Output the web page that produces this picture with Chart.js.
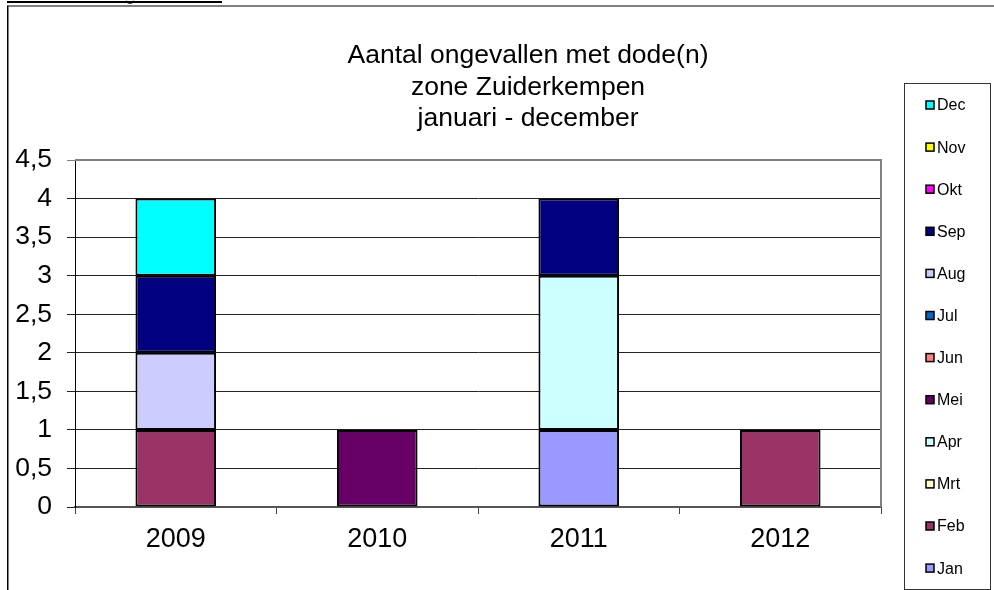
<!DOCTYPE html>
<html>
<head>
<meta charset="utf-8">
<script src="https://cdn.jsdelivr.net/npm/chart.js@4.4.1/dist/chart.umd.min.js"></script>
<style>
  html, body { margin: 0; padding: 0; background: #fff; }
  canvas { display: block; }
</style>
</head>
<body>
<canvas id="chart" width="994" height="590"></canvas>
<script>
// categorieën en maanden
const years = ['2009', '2010', '2011', '2012'];
const months = ['Jan', 'Feb', 'Mrt', 'Apr', 'Mei', 'Jun', 'Jul', 'Aug', 'Sep', 'Okt', 'Nov', 'Dec'];

// aantal ongevallen per maand, per jaar
const jan = [0, 0, 1, 0];
const feb = [1, 0, 0, 1];
const mrt = [0, 0, 0, 0];
const apr = [0, 0, 2, 0];
const mei = [0, 1, 0, 0];
const jun = [0, 0, 0, 0];
const jul = [0, 0, 0, 0];
const aug = [1, 0, 0, 0];
const sep = [1, 0, 1, 0];
const okt = [0, 0, 0, 0];
const nov = [0, 0, 0, 0];
const dec = [1, 0, 0, 0];

const yTickLabels = ['0', '0,5', '1', '1,5', '2', '2,5', '3', '3,5', '4', '4,5'];

const titleLines = ['Aantal ongevallen met dode(n)', 'zone Zuiderkempen', 'januari - december'];

// Excel standaardkleuren
const monthColors = ['#9999FF', '#993366', '#FFFFCC', '#CCFFFF', '#660066', '#FF8080',
                     '#0066CC', '#CCCCFF', '#000080', '#FF00FF', '#FFFF00', '#00FFFF'];

const series = [jan, feb, mrt, apr, mei, jun, jul, aug, sep, okt, nov, dec];

const FONT = '"Liberation Sans", Arial, sans-serif';
Chart.defaults.font.family = FONT;
Chart.defaults.color = '#000';

// kader, titel en legende
const decorPlugin = {
    id: 'decor',
    beforeDraw(chart) {
        const c = chart.ctx;
        c.save();
        c.fillStyle = '#fff';
        c.fillRect(0, 0, chart.width, chart.height);
        c.fillStyle = '#000';
        c.fillRect(7, 1, 215, 2);
        c.beginPath();
        c.arc(130, -2, 5, 0.2 * Math.PI, 0.8 * Math.PI);
        c.lineWidth = 1.5;
        c.strokeStyle = '#000';
        c.stroke();
        c.fillStyle = '#808080';
        c.fillRect(7, 5, 987, 2);
        c.fillStyle = '#000';
        c.fillRect(7, 6, 1.5, 584);
        c.restore();
    },
    afterDraw(chart) {
        const c = chart.ctx;
        const a = chart.chartArea;
        c.save();
        // grijze rand boven en rechts van het plotgebied
        c.strokeStyle = '#808080';
        c.lineWidth = 2;
        c.beginPath();
        c.moveTo(a.left, a.top);
        c.lineTo(a.right, a.top);
        c.lineTo(a.right, a.bottom);
        c.stroke();

        // titel
        c.fillStyle = '#000';
        c.font = '26.5px ' + FONT;
        c.textAlign = 'center';
        c.textBaseline = 'alphabetic';
        titleLines.forEach((t, i) => c.fillText(t, 528, 63 + i * 31.5));

        // legende
        c.strokeStyle = '#333';
        c.lineWidth = 1;
        c.strokeRect(904.5, 83.5, 86, 506);
        c.font = '16px ' + FONT;
        c.textAlign = 'left';
        c.textBaseline = 'middle';
        const ds = chart.data.datasets;
        for (let i = 0; i < ds.length; i++) {
            const d = ds[ds.length - 1 - i];
            const y = 105 + i * 42.1;
            c.fillStyle = d.backgroundColor;
            c.fillRect(926, y - 4, 8, 8);
            c.strokeStyle = '#000';
            c.lineWidth = 1.5;
            c.strokeRect(926, y - 4, 8, 8);
            c.fillStyle = '#000';
            c.fillText(d.label, 937, y + 1);
        }
        c.restore();
    }
};

new Chart(document.getElementById('chart'), {
    type: 'bar',
    data: {
        labels: years,
        datasets: months.map((m, i) => ({
            label: m,
            data: series[i],
            backgroundColor: monthColors[i],
            borderColor: '#000',
            borderWidth: 2,
            borderSkipped: false,
            barPercentage: 0.4,
            categoryPercentage: 1.0,
        })),
    },
    options: {
        responsive: false,
        animation: false,
        events: [],
        layout: {
            padding: { left: 0, top: 160, right: 113, bottom: 0 }
        },
        scales: {
            x: {
                stacked: true,
                grid: {
                    offset: true,
                    drawOnChartArea: false,
                    drawTicks: true,
                    tickLength: 7,
                    color: '#444',
                },
                border: { color: '#555', width: 2 },
                ticks: {
                    font: { size: 27 },
                    padding: 9,
                    maxRotation: 0,
                },
                afterFit(scale) { scale.height = 83; },
            },
            y: {
                stacked: true,
                min: 0,
                max: 4.5,
                grid: {
                    color: (ctx) => ctx.tick && ctx.tick.value === 4.5 ? '#808080' : '#222',
                    tickLength: 8,
                },
                border: { color: '#000', width: 1 },
                ticks: {
                    stepSize: 0.5,
                    font: { size: 26.5 },
                    padding: 15,
                    callback: (v, i) => yTickLabels[i],
                },
                afterFit(scale) { scale.width = 75; },
            },
        },
        plugins: {
            legend: { display: false },
            title: { display: false },
            tooltip: { enabled: false },
        },
    },
    plugins: [decorPlugin],
});
</script>
</body>
</html>
